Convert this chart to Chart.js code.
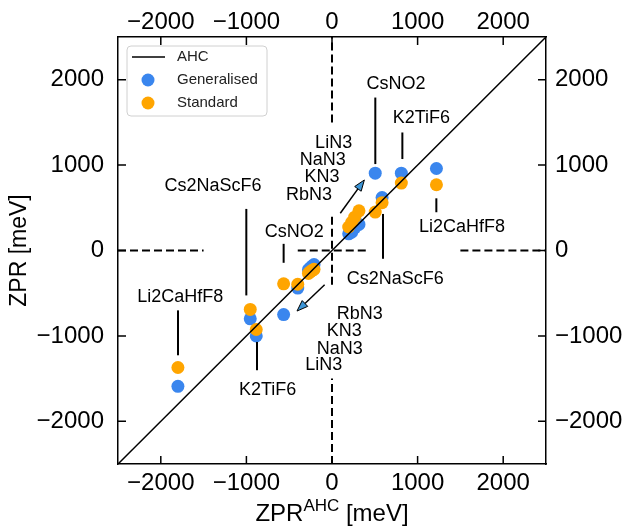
<!DOCTYPE html>
<html>
<head>
<meta charset="utf-8">
<script src="https://cdn.jsdelivr.net/npm/chart.js@4.4.0/dist/chart.umd.min.js"></script>
<style>
  html, body { margin: 0; padding: 0; background: #fff; }
</style>
</head>
<body>
<canvas id="zprChart" width="622" height="530"></canvas>
<script>
const FONT = 'Arial, "Liberation Sans", sans-serif';
const tickValues = [-2000, -1000, 0, 1000, 2000];
const axisMin = -2500, axisMax = 2500;

// ZPR^AHC of each compound (x) and the two models (y), meV
const ahcX = [-1800, -955, -885, -565, -400, -210, -235, -255, -275, 195, 230, 265, 315, 585, 505, 810, 1220];
const genY = [-1590, -800, -1000, -750, -440, -165, -185, -205, -225, 195, 215, 265, 305, 620, 905, 905, 960];
const stdY = [-1370, -690, -925, -390, -395, -220, -235, -250, -268, 275, 330, 390, 465, 560, 450, 790, 770];

// diagonal and dashed guide segments
const diag = [-2500, 2500];
const dashSegs = [[-2500, -1500], [-400, 400], [1500, 2500]];

// compound labels (centre, data coords)
const labelText = ['Li2CaHfF8', 'Cs2NaScF6', 'K2TiF6', 'CsNO2', 'RbN3', 'KN3', 'NaN3', 'LiN3',
                   'LiN3', 'NaN3', 'KN3', 'RbN3', 'CsNO2', 'K2TiF6', 'Li2CaHfF8', 'Cs2NaScF6'];
const labelX = [-1772, -1390, -752, -440, 323, 144, 90, -97, 19, -109, -117, -269, 748, 1044, 1519, 740];
const labelY = [-545, 752, -1636, 214, -748, -946, -1157, -1336, 1254, 1059, 857, 654, 1955, 1550, 280, -331];

// vertical leader lines
const leadX  = [-1799, -1001, -876, -565, 506, 822, 1219, 596];
const leadY0 = [-701, 487, -1071, 78, 1791, 1382, 611, 428];
const leadY1 = [-1227, -526, -1402, -144, 1012, 1071, 448, -97];

// arrows (from -> to)
const arrowX0 = [97, -86], arrowY0 = [436, -401];
const arrowX1 = [378, -409], arrowY1 = [826, -709];

const blue = '#3a86ee';
const orange = '#ffa500';

function fmt(v) {
    return v < 0 ? '\u2212' + Math.abs(v) : String(v);
}

let datasets = [
    {
        label: 'AHC',
        data: diag.map(v => ({x: v, y: v})),
        showLine: true, borderColor: '#000', borderWidth: 1.5, pointRadius: 0
    },
    {
        label: 'Standard',
        data: ahcX.map((v, i) => ({x: v, y: stdY[i]})),
        backgroundColor: orange, borderWidth: 0, pointRadius: 6.5
    },
    {
        label: 'Generalised',
        data: ahcX.map((v, i) => ({x: v, y: genY[i]})),
        backgroundColor: blue, borderWidth: 0, pointRadius: 6.5
    }
];
dashSegs.forEach(s => {
    datasets.push({data: [{x: 0, y: s[0]}, {x: 0, y: s[1]}], showLine: true, borderColor: '#000', borderWidth: 2, borderDash: [8, 4], pointRadius: 0});
    datasets.push({data: [{x: s[0], y: 0}, {x: s[1], y: 0}], showLine: true, borderColor: '#000', borderWidth: 2, borderDash: [8, 4], pointRadius: 0});
});

function axis(position, size, pad) {
    const horiz = position === 'top' || position === 'bottom';
    return {
        type: 'linear', position: position, min: axisMin, max: axisMax,
        grid: {display: false},
        border: {display: true, color: '#000', width: 1.5},
        ticks: {font: {size: 24, family: FONT}, color: '#000', padding: pad, callback: fmt},
        afterBuildTicks: s => { s.ticks = tickValues.map(v => ({value: v})); },
        afterFit: s => { if (horiz) s.height = size; else s.width = size; }
    };
}

const overlay = {
    id: 'overlay',
    afterDatasetsDraw(chart) {
        const {ctx, scales: {x, y}} = chart;
        ctx.save();
        ctx.strokeStyle = '#000';
        ctx.lineWidth = 2;
        leadX.forEach((v, i) => {
            ctx.beginPath();
            ctx.moveTo(x.getPixelForValue(v), y.getPixelForValue(leadY0[i]));
            ctx.lineTo(x.getPixelForValue(v), y.getPixelForValue(leadY1[i]));
            ctx.stroke();
        });
        ctx.fillStyle = '#000';
        ctx.font = '18px ' + FONT;
        ctx.textAlign = 'center';
        ctx.textBaseline = 'middle';
        labelText.forEach((t, i) => {
            ctx.fillText(t, x.getPixelForValue(labelX[i]), y.getPixelForValue(labelY[i]));
        });
        // arrows
        arrowX0.forEach((v, i) => {
            const x0 = x.getPixelForValue(v), y0 = y.getPixelForValue(arrowY0[i]);
            const x1 = x.getPixelForValue(arrowX1[i]), y1 = y.getPixelForValue(arrowY1[i]);
            const ang = Math.atan2(y1 - y0, x1 - x0);
            const len = 11, hw = 4;
            const bx = x1 - len * Math.cos(ang), by = y1 - len * Math.sin(ang);
            ctx.lineWidth = 1.5;
            ctx.beginPath();
            ctx.moveTo(x0, y0);
            ctx.lineTo(bx, by);
            ctx.stroke();
            ctx.beginPath();
            ctx.moveTo(x1, y1);
            ctx.lineTo(bx + hw * Math.sin(ang), by - hw * Math.cos(ang));
            ctx.lineTo(bx - hw * Math.sin(ang), by + hw * Math.cos(ang));
            ctx.closePath();
            ctx.fillStyle = '#3d95d6';
            ctx.fill();
            ctx.lineWidth = 1;
            ctx.stroke();
        });
        ctx.restore();
    },
    afterDraw(chart) {
        const {ctx, chartArea: a} = chart;
        const sc = chart.scales;
        ctx.save();
        // inward tick marks on all four sides
        ctx.strokeStyle = '#000';
        ctx.lineWidth = 1.5;
        const tl = 8;
        tickValues.forEach(v => {
            const px = sc.x.getPixelForValue(v), py = sc.y.getPixelForValue(v);
            ctx.beginPath();
            ctx.moveTo(px, a.bottom); ctx.lineTo(px, a.bottom - tl);
            ctx.moveTo(px, a.top); ctx.lineTo(px, a.top + tl);
            ctx.moveTo(a.left, py); ctx.lineTo(a.left + tl, py);
            ctx.moveTo(a.right, py); ctx.lineTo(a.right - tl, py);
            ctx.stroke();
        });
        // legend box
        const lx = a.left + 9, ly = a.top + 9, lw = 140, lh = 70;
        ctx.beginPath();
        ctx.roundRect(lx, ly, lw, lh, 4);
        ctx.fillStyle = 'rgba(255,255,255,0.85)';
        ctx.fill();
        ctx.strokeStyle = '#d0d0d0';
        ctx.lineWidth = 1;
        ctx.stroke();
        const rows = [
            {text: 'AHC', kind: 'line'},
            {text: 'Generalised', kind: 'dot', color: blue},
            {text: 'Standard', kind: 'dot', color: orange}
        ];
        ctx.font = '15px ' + FONT;
        ctx.textAlign = 'left';
        ctx.textBaseline = 'middle';
        rows.forEach((r, i) => {
            const ry = ly + 11 + i * 23;
            if (r.kind === 'line') {
                ctx.strokeStyle = '#000';
                ctx.lineWidth = 1.5;
                ctx.beginPath();
                ctx.moveTo(lx + 5, ry); ctx.lineTo(lx + 38, ry);
                ctx.stroke();
            } else {
                ctx.fillStyle = r.color;
                ctx.beginPath();
                ctx.arc(lx + 21, ry, 6.5, 0, Math.PI * 2);
                ctx.fill();
            }
            ctx.fillStyle = '#222';
            ctx.fillText(r.text, lx + 50, ry);
        });
        // x axis title with superscript
        const cx = (a.left + a.right) / 2, ty = 512;
        const big = '24px ' + FONT, small = '17px ' + FONT;
        ctx.font = big;
        const w1 = ctx.measureText('ZPR').width, w3 = ctx.measureText(' [meV]').width;
        ctx.font = small;
        const w2 = ctx.measureText('AHC').width;
        let sx = cx - (w1 + w2 + w3) / 2;
        ctx.fillStyle = '#000';
        ctx.textBaseline = 'alphabetic';
        ctx.font = big;
        ctx.fillText('ZPR', sx, ty + 9);
        ctx.font = small;
        ctx.fillText('AHC', sx + w1, ty - 1);
        ctx.font = big;
        ctx.fillText(' [meV]', sx + w1 + w2, ty + 9);
        ctx.restore();
    }
};

const xAxis = axis('bottom', 66, -3);
const x2Axis = axis('top', 37, -8);
const yAxis = axis('left', 118, 6);
yAxis.title = {display: true, text: 'ZPR [meV]', color: '#000', font: {size: 23, family: FONT}, padding: {top: 6, bottom: 4}};
const y2Axis = axis('right', 76, 1);

new Chart(document.getElementById('zprChart'), {
    type: 'scatter',
    data: {datasets: datasets},
    options: {
        responsive: false,
        animation: false,
        devicePixelRatio: 1,
        layout: {padding: 0},
        plugins: {legend: {display: false}, tooltip: {enabled: false}},
        scales: {x: xAxis, x2: x2Axis, y: yAxis, y2: y2Axis}
    },
    plugins: [overlay]
});
</script>
</body>
</html>
